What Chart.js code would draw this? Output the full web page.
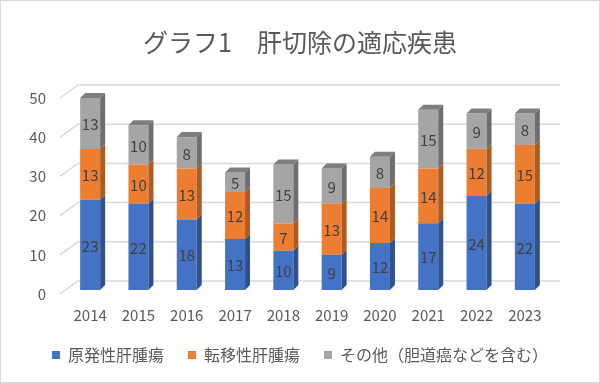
<!DOCTYPE html>
<html>
<head>
<meta charset="utf-8">
<script src="https://cdn.jsdelivr.net/npm/chart.js@4"></script>
<style>
  body { margin: 0; background: #fff; }
  #wrap { width: 600px; height: 383px; }
</style>
</head>
<body>
<div id="wrap"><canvas id="chart" width="600" height="383"></canvas></div>
<script>
// データ（グラフ1 肝切除の適応疾患）
const years = ['2014', '2015', '2016', '2017', '2018', '2019', '2020', '2021', '2022', '2023'];
const primaryTumor = [23, 22, 18, 13, 10, 9, 12, 17, 24, 22];
const metastaticTumor = [13, 10, 13, 12, 7, 13, 14, 14, 12, 15];
const others = [13, 10, 8, 5, 15, 9, 8, 15, 9, 8];
const seriesNames = ['原発性肝腫瘍', '転移性肝腫瘍', 'その他（胆道癌などを含む）'];
const yTicks = [0, 10, 20, 30, 40, 50];

const frontColors = ['#4472C4', '#ED7D31', '#A5A5A5'];
const sideColors = ['#2F528F', '#AE5A21', '#6E6E6E'];
const topColor = '#7E7E7E';
const textColor = '#595959';
const DX = 5, DY = 5; // 奥行き

Chart.defaults.font.family = '"Noto Sans CJK JP", "Noto Sans", sans-serif';

// 奥の壁の目盛線と左の斜線
const wallGrid = {
  id: 'wallGrid',
  beforeDatasetsDraw(chart) {
    const { ctx, scales } = chart;
    const ys = scales.y;
    const left = chart.chartArea.left;
    ctx.save();
    ctx.strokeStyle = '#D9D9D9';
    ctx.lineWidth = 1.5;
    yTicks.forEach(v => {
      const yf = ys.getPixelForValue(v);
      ctx.beginPath();
      ctx.moveTo(left - 6, yf + 4);
      ctx.lineTo(left + 12, yf - 9);
      ctx.lineTo(560, yf - 9);
      ctx.stroke();
    });
    ctx.restore();
  }
};

// 側面・上面とデータラベル
const bars3d = {
  id: 'bars3d',
  afterDatasetsDraw(chart) {
    const ctx = chart.ctx;
    const last = chart.data.datasets.length - 1;
    ctx.save();
    chart.data.datasets.forEach((ds, i) => {
      const meta = chart.getDatasetMeta(i);
      meta.data.forEach(bar => {
        const r = bar.x + bar.width / 2;
        const l = bar.x - bar.width / 2;
        ctx.fillStyle = sideColors[i];
        ctx.beginPath();
        ctx.moveTo(r, bar.y);
        ctx.lineTo(r + DX, bar.y - DY);
        ctx.lineTo(r + DX, bar.base - DY);
        ctx.lineTo(r, bar.base);
        ctx.closePath();
        ctx.fill();
        if (i === last) {
          ctx.fillStyle = topColor;
          ctx.beginPath();
          ctx.moveTo(l, bar.y);
          ctx.lineTo(l + DX, bar.y - DY);
          ctx.lineTo(r + DX, bar.y - DY);
          ctx.lineTo(r, bar.y);
          ctx.closePath();
          ctx.fill();
        }
      });
    });
    ctx.font = '15px "Noto Sans CJK JP", sans-serif';
    ctx.fillStyle = '#404040';
    ctx.textAlign = 'center';
    ctx.textBaseline = 'middle';
    chart.data.datasets.forEach((ds, i) => {
      const meta = chart.getDatasetMeta(i);
      meta.data.forEach((bar, j) => {
        ctx.fillText(String(ds.data[j]), bar.x, (bar.y + bar.base) / 2 + 1);
      });
    });
    ctx.restore();
  },
  afterDraw(chart) {
    const ctx = chart.ctx;
    ctx.save();
    ctx.strokeStyle = '#D9D9D9';
    ctx.lineWidth = 1;
    ctx.strokeRect(0.5, 0.5, chart.width - 1, chart.height - 1);
    ctx.restore();
  }
};

const ctx = document.getElementById('chart').getContext('2d');
new Chart(ctx, {
  type: 'bar',
  data: {
    labels: years,
    datasets: [primaryTumor, metastaticTumor, others].map((d, i) => ({
      label: seriesNames[i],
      data: d,
      backgroundColor: frontColors[i],
      borderWidth: 0,
      categoryPercentage: 1,
      barPercentage: 0.414
    }))
  },
  options: {
    responsive: false,
    animation: false,
    layout: { padding: { top: 0, left: 0, right: 0, bottom: 10 } },
    scales: {
      x: {
        stacked: true,
        grid: { display: false, drawTicks: false },
        border: { display: false },
        ticks: { color: textColor, font: { size: 15 }, padding: 16 },
        afterFit: s => { s.height = 33; }
      },
      y: {
        stacked: true,
        min: 0,
        max: 50,
        grid: { display: false, drawTicks: false },
        border: { display: false },
        ticks: { stepSize: 10, color: textColor, font: { size: 15 }, padding: 20, labelOffset: 4 },
        afterFit: s => { s.width = 66; }
      },
      y2: {
        position: 'right',
        display: true,
        grid: { display: false, drawTicks: false },
        border: { display: false },
        ticks: { display: false },
        afterFit: s => { s.width = 51; }
      }
    },
    plugins: {
      title: {
        display: true,
        text: 'グラフ1　肝切除の適応疾患',
        color: textColor,
        font: { size: 25, weight: 'normal' },
        padding: { top: 27, bottom: 37 }
      },
      legend: {
        position: 'bottom',
        labels: {
          boxWidth: 8,
          boxHeight: 8,
          padding: 24,
          color: textColor,
          font: { size: 16 }
        }
      },
      tooltip: { enabled: false }
    }
  },
  plugins: [wallGrid, bars3d]
});
</script>
</body>
</html>
